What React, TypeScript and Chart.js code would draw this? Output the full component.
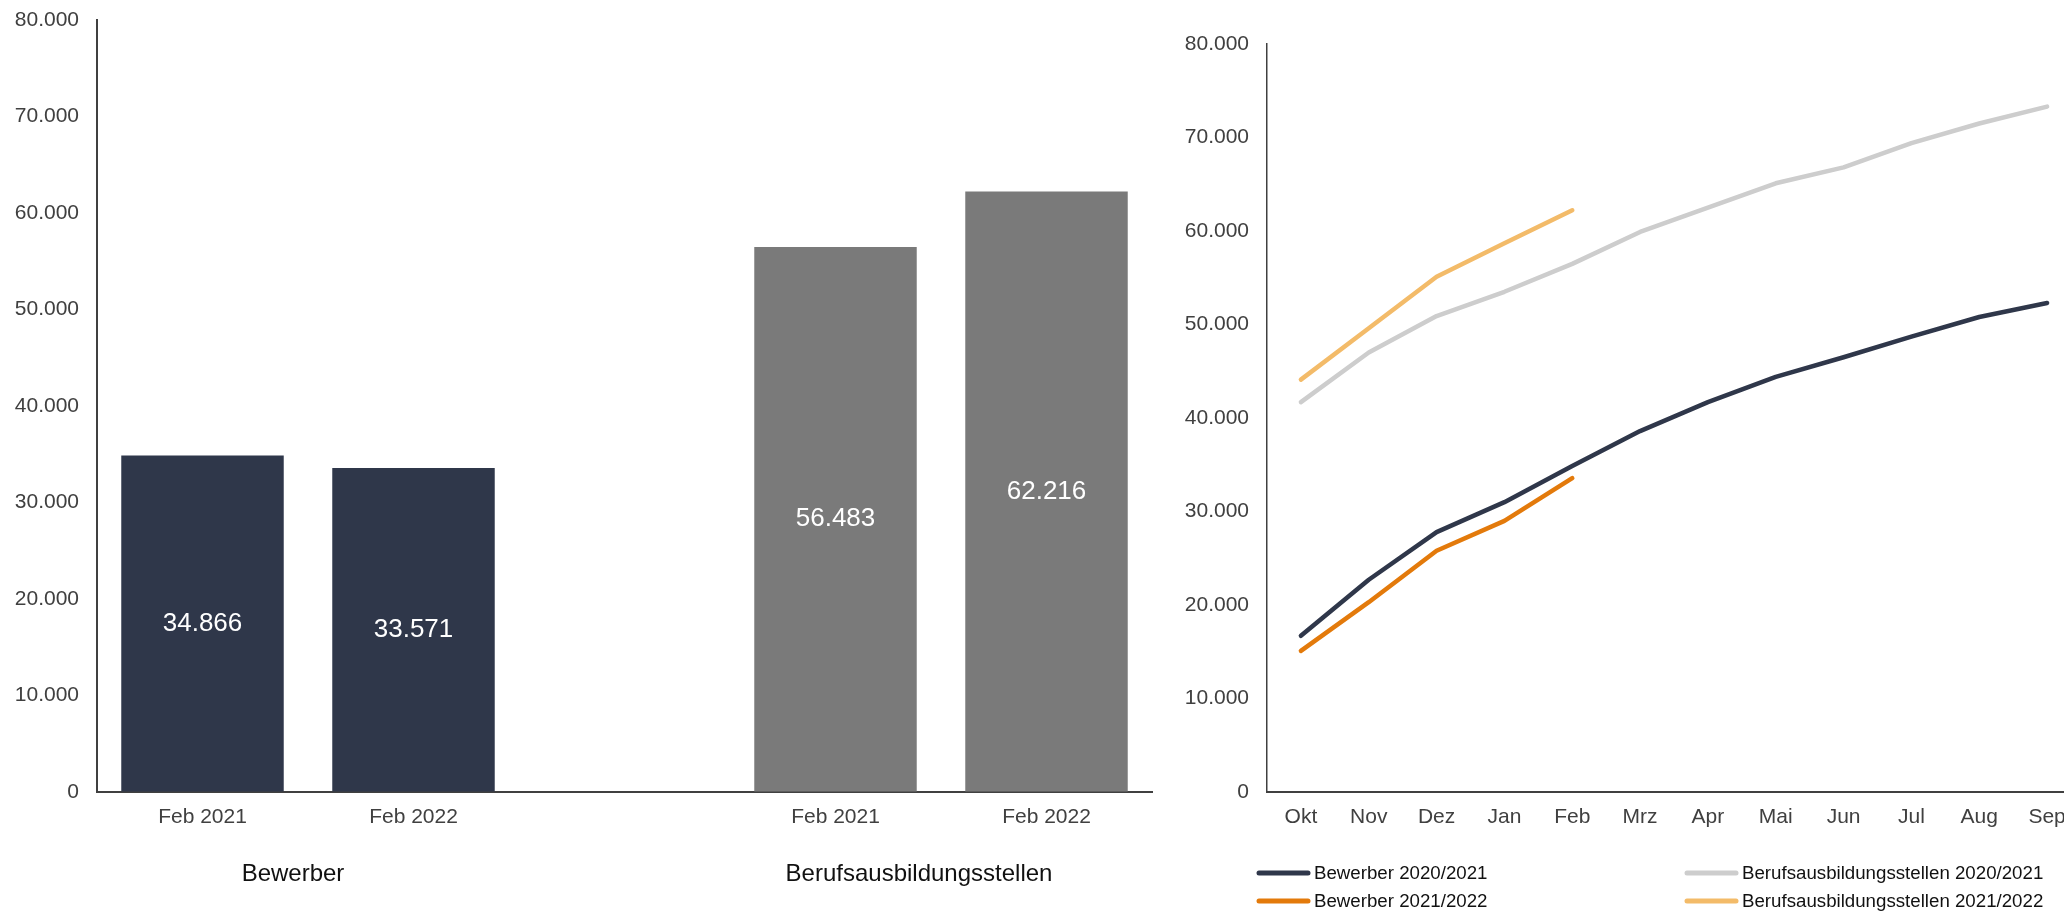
import React, { useEffect, useRef } from 'react';
import { Chart, registerables } from 'chart.js';

Chart.register(...registerables);

const FONT = '"Liberation Sans", Arial, Helvetica, sans-serif';

// ---------- Left chart data ----------
const barCategories = ['Feb 2021', 'Feb 2022', '', 'Feb 2021', 'Feb 2022'];
const barValues: (number | null)[] = [34866, 33571, null, 56483, 62216];
const barColors = ['#2F374A', '#2F374A', '#2F374A', '#7A7A7A', '#7A7A7A'];
const groupLabels = ['Bewerber', 'Berufsausbildungsstellen'];
const groupPairs = [[0, 1], [3, 4]];

// ---------- Right chart data ----------
const months = ['Okt', 'Nov', 'Dez', 'Jan', 'Feb', 'Mrz', 'Apr', 'Mai', 'Jun', 'Jul', 'Aug', 'Sep'];
const bewerber2021 = [16700, 22700, 27800, 31000, 34866, 38600, 41700, 44400, 46500, 48700, 50800, 52300];
const bewerber2122 = [15100, 20300, 25800, 29000, 33571];
const stellen2021 = [41700, 47000, 50900, 53500, 56483, 59900, 62500, 65100, 66800, 69400, 71500, 73300];
const stellen2122 = [44100, 49600, 55100, 58700, 62216];
const seriesLabels = ['Bewerber 2020/2021', 'Bewerber 2021/2022', 'Berufsausbildungsstellen 2020/2021', 'Berufsausbildungsstellen 2021/2022'];
const seriesColors = ['#2F374A', '#E37A0B', '#CDCDCD', '#F3BB69'];

const yMin = 0;
const yMax = 80000;
const yStep = 10000;

const fmt = (v: number) => String(Math.round(v)).replace(/\B(?=(\d{3})+(?!\d))/g, '.');

const AXIS_COLOR = '#404040';
const TICK_COLOR = '#404040';

const barValueLabels = {
  id: 'barValueLabels',
  afterDatasetsDraw(chart: any) {
    const ctx = chart.ctx;
    const meta = chart.getDatasetMeta(0);
    ctx.save();
    ctx.font = `26px ${FONT}`;
    ctx.fillStyle = '#ffffff';
    ctx.textAlign = 'center';
    ctx.textBaseline = 'middle';
    meta.data.forEach((el: any, i: number) => {
      const v = barValues[i];
      if (v == null) return;
      const p = el.getProps(['x', 'y', 'base'], true);
      ctx.fillText(fmt(v), p.x, (p.y + p.base) / 2);
    });
    ctx.restore();
  },
};

const groupLabelPlugin = {
  id: 'groupLabels',
  afterDraw(chart: any) {
    const ctx = chart.ctx;
    const xs = chart.scales.x;
    const offsets = [-15, -22];
    ctx.save();
    ctx.font = `24px ${FONT}`;
    ctx.fillStyle = '#111111';
    ctx.textAlign = 'center';
    ctx.textBaseline = 'middle';
    groupPairs.forEach((pair, gi) => {
      const x = (xs.getPixelForTick(pair[0]) + xs.getPixelForTick(pair[1])) / 2 + offsets[gi];
      ctx.fillText(groupLabels[gi], x, chart.chartArea.bottom + 82);
    });
    ctx.restore();
  },
};

const customLegend = {
  id: 'customLegend',
  afterDraw(chart: any) {
    const ctx = chart.ctx;
    const bottom = chart.chartArea.bottom;
    const cols = [107, 535];
    const rows = [bottom + 81, bottom + 109];
    // grid placement: dataset index -> [col,row]
    const place = [[0, 0], [0, 1], [1, 0], [1, 1]];
    ctx.save();
    ctx.font = `18.7px ${FONT}`;
    ctx.textBaseline = 'middle';
    ctx.textAlign = 'left';
    chart.data.datasets.forEach((ds: any, i: number) => {
      const [c, r] = place[i];
      const x = cols[c];
      const y = rows[r];
      ctx.strokeStyle = ds.borderColor;
      ctx.lineWidth = 5;
      ctx.lineCap = 'round';
      ctx.beginPath();
      ctx.moveTo(x + 2, y);
      ctx.lineTo(x + 51, y);
      ctx.stroke();
      ctx.fillStyle = '#111111';
      ctx.fillText(ds.label, x + 57, y + 1);
    });
    ctx.restore();
  },
};

export default function App() {
  const leftRef = useRef<HTMLCanvasElement>(null);
  const rightRef = useRef<HTMLCanvasElement>(null);

  useEffect(() => {
    document.body.style.margin = '0';
    document.body.style.overflow = 'hidden';

    const tickFont = { family: FONT, size: 21 };

    const left = new Chart(leftRef.current as HTMLCanvasElement, {
      type: 'bar',
      data: {
        labels: barCategories,
        datasets: [
          {
            data: barValues as any,
            backgroundColor: barColors,
            borderWidth: 0,
            barPercentage: 0.77,
            categoryPercentage: 1,
          },
        ],
      },
      options: {
        responsive: false,
        animation: false,
        devicePixelRatio: 1,
        layout: { padding: { top: 20, right: 8, bottom: 0, left: 0 } },
        plugins: { legend: { display: false }, tooltip: { enabled: false } },
        scales: {
          x: {
            grid: { display: true, drawOnChartArea: false, drawTicks: false },
            border: { display: true, color: AXIS_COLOR, width: 2 },
            ticks: { font: tickFont, color: TICK_COLOR, padding: 13, maxRotation: 0, autoSkip: false },
            afterFit: (s: any) => { s.height = 119; },
          },
          y: {
            min: yMin,
            max: yMax,
            grid: { display: true, drawOnChartArea: false, drawTicks: false },
            border: { display: true, color: AXIS_COLOR, width: 2 },
            ticks: { stepSize: yStep, font: tickFont, color: TICK_COLOR, padding: 18, callback: (v: any) => fmt(Number(v)) },
            afterFit: (s: any) => { s.width = 97; s.paddingTop = 0; s.paddingBottom = 0; },
          },
        },
      },
      plugins: [barValueLabels, groupLabelPlugin],
    } as any);

    const lineData = [bewerber2021, bewerber2122, stellen2021, stellen2122];
    const drawOrder = [3, 2, 1, 0];

    const right = new Chart(rightRef.current as HTMLCanvasElement, {
      type: 'line',
      data: {
        labels: months,
        datasets: seriesLabels.map((label, i) => ({
          label,
          data: lineData[i],
          borderColor: seriesColors[i],
          backgroundColor: seriesColors[i],
          borderWidth: 4.5,
          pointRadius: 0,
          tension: 0,
          fill: false,
          borderCapStyle: 'round',
          borderJoinStyle: 'round',
          order: drawOrder[i],
        })),
      },
      options: {
        responsive: false,
        animation: false,
        devicePixelRatio: 1,
        layout: { padding: { top: 44, right: 0, bottom: 0, left: 0 } },
        plugins: { legend: { display: false }, tooltip: { enabled: false } },
        scales: {
          x: {
            offset: true,
            grid: { display: true, drawOnChartArea: false, drawTicks: false, offset: true },
            border: { display: true, color: AXIS_COLOR, width: 2 },
            ticks: { font: tickFont, color: TICK_COLOR, padding: 13, maxRotation: 0, autoSkip: false },
            afterFit: (s: any) => { s.height = 119; },
          },
          y: {
            min: yMin,
            max: yMax,
            grid: { display: true, drawOnChartArea: false, drawTicks: false },
            border: { display: true, color: AXIS_COLOR, width: 1.5 },
            ticks: { stepSize: yStep, font: tickFont, color: TICK_COLOR, padding: 18, callback: (v: any) => fmt(Number(v)) },
            afterFit: (s: any) => { s.width = 117; s.paddingTop = 0; s.paddingBottom = 0; },
          },
        },
      },
      plugins: [customLegend],
    } as any);

    return () => {
      left.destroy();
      right.destroy();
    };
  }, []);

  return (
    <div style={{ position: 'relative', width: 2064, height: 911, overflow: 'hidden', background: '#ffffff' }}>
      <canvas ref={leftRef} width={1160} height={911} style={{ position: 'absolute', left: 0, top: 0, width: 1160, height: 911 }} />
      <canvas ref={rightRef} width={931} height={911} style={{ position: 'absolute', left: 1150, top: 0, width: 931, height: 911 }} />
    </div>
  );
}
